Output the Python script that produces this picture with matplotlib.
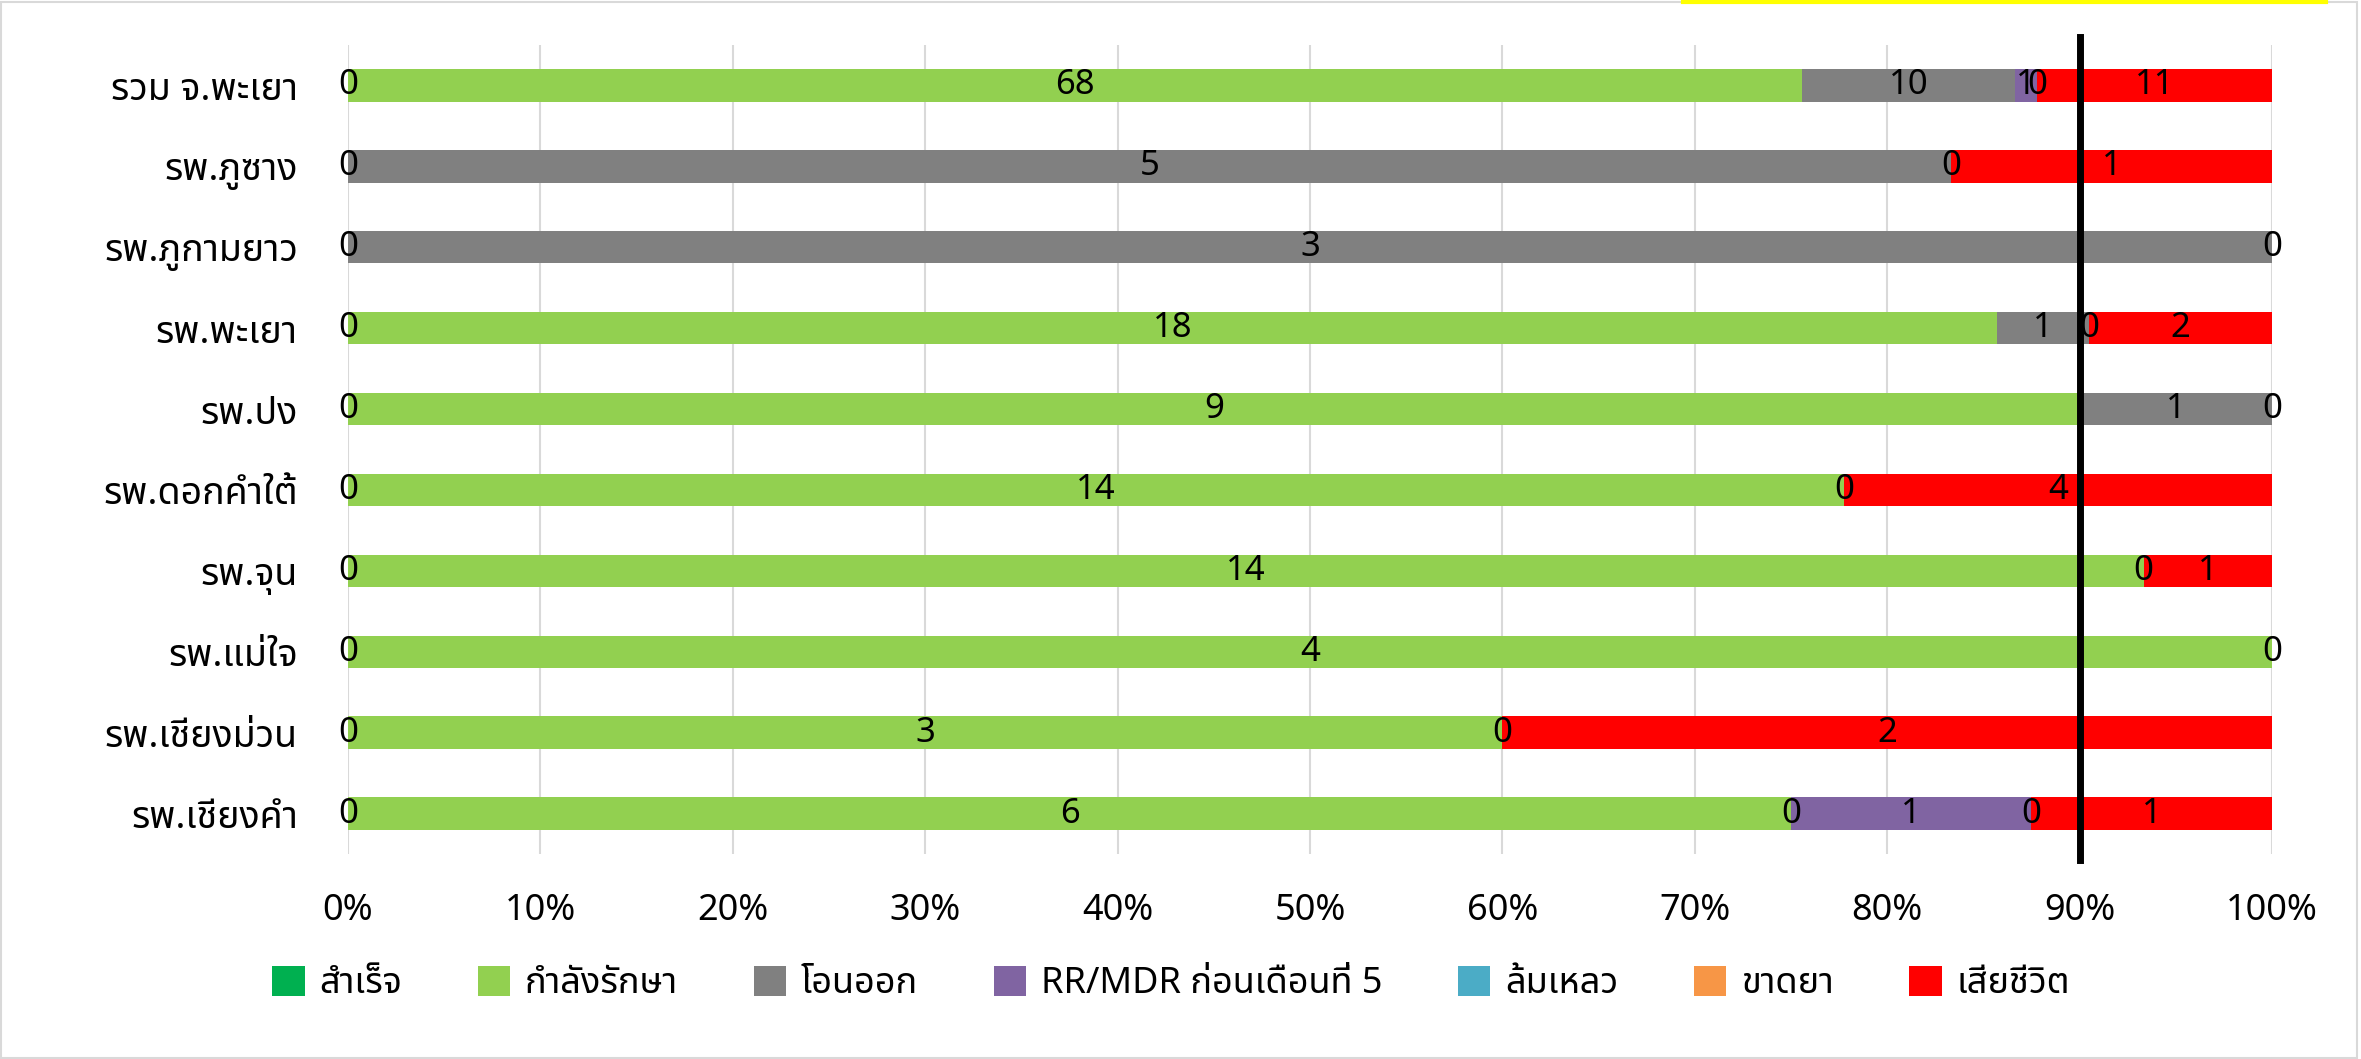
import numpy as np
import matplotlib
matplotlib.use("Agg")
import matplotlib.pyplot as plt
from matplotlib.patches import Patch, Rectangle
from matplotlib.lines import Line2D

# ฟอนต์ไทย + สำรอง
plt.rcParams['font.family'] = ['Noto Sans Thai', 'DejaVu Sans']

categories = ['รวม จ.พะเยา', 'รพ.ภูซาง', 'รพ.ภูกามยาว', 'รพ.พะเยา', 'รพ.ปง',
              'รพ.ดอกคำใต้', 'รพ.จุน', 'รพ.แม่ใจ', 'รพ.เชียงม่วน', 'รพ.เชียงคำ']

series_names = ['สำเร็จ', 'กำลังรักษา', 'โอนออก', 'RR/MDR ก่อนเดือนที่ 5',
                'ล้มเหลว', 'ขาดยา', 'เสียชีวิต']
colors = ['#00B050', '#92D050', '#808080', '#8064A2', '#4BACC6', '#F79646', '#FF0000']

N = None
success   = [0, 0, 0, 0, 0, 0, 0, 0, 0, 0]
treating  = [68, N, N, 18, 9, 14, 14, 4, 3, 6]
transfer  = [10, 5, 3, 1, 1, N, N, N, N, 0]
rr_mdr    = [1, N, N, N, N, N, N, N, N, 1]
failed    = [N, N, N, N, N, N, N, N, N, N]
default   = [0, 0, N, 0, N, 0, 0, N, 0, 0]
died      = [11, 1, 0, 2, 0, 4, 1, 0, 2, 1]

series = [success, treating, transfer, rr_mdr, failed, default, died]

fig = plt.figure(figsize=(23.61, 10.59), dpi=100)
ax = fig.add_axes([0.1474, 0.1936, 0.8149, 0.7639])

vals = np.array([[np.nan if v is None else v for v in s] for s in series], dtype=float)
totals = np.nansum(vals, axis=0)
pct = np.nan_to_num(vals) / totals * 100

y = np.arange(len(categories))
left = np.zeros(len(categories))
for i, name in enumerate(series_names):
    ax.barh(y, pct[i], left=left, height=0.4, color=colors[i], zorder=2)
    for j in range(len(categories)):
        if not np.isnan(vals[i, j]):
            ax.text(left[j] + pct[i, j] / 2, y[j], f"{int(vals[i, j])}",
                    ha='center', va='center', fontsize=25, color='black', zorder=4)
    left += pct[i]

# เส้นเป้าหมาย 90%
ax.axvline(90, ymin=-0.008, ymax=1.01, color='black', linewidth=5, zorder=5, clip_on=False)

ax.set_xlim(0, 100)
ax.set_ylim(len(categories) - 0.5, -0.5)
ax.set_xticks(np.arange(0, 101, 10))
ax.set_xticklabels([f"{t}%" for t in range(0, 101, 10)], fontsize=26)
ax.set_yticks(y)
ax.set_yticklabels(categories, fontsize=27)
ax.tick_params(axis='both', length=0)
ax.tick_params(axis='x', pad=28)
ax.tick_params(axis='y', pad=36)
ax.grid(axis='x', color='#D9D9D9', linewidth=1.5, zorder=0)
ax.set_axisbelow(True)
for s in ax.spines.values():
    s.set_visible(False)

handles = [Patch(facecolor=c, edgecolor='none') for c in colors]
fig.legend(handles, series_names, loc='center', bbox_to_anchor=(0.496, 0.071),
           ncol=7, frameon=False, fontsize=26, handlelength=0.9, handleheight=0.9,
           handletextpad=0.4, columnspacing=2.1)

# กรอบรูปและเส้นสีเหลืองด้านบน
fig.patches.append(Rectangle((0.0005, 0.001), 0.998, 0.997, transform=fig.transFigure,
                             fill=False, edgecolor='#D9D9D9', linewidth=1.5))
fig.lines.append(Line2D([0.713, 0.985], [0.9985, 0.9985], transform=fig.transFigure,
                        color='#FFFF00', linewidth=3))

fig.savefig("out.png", dpi=100)
